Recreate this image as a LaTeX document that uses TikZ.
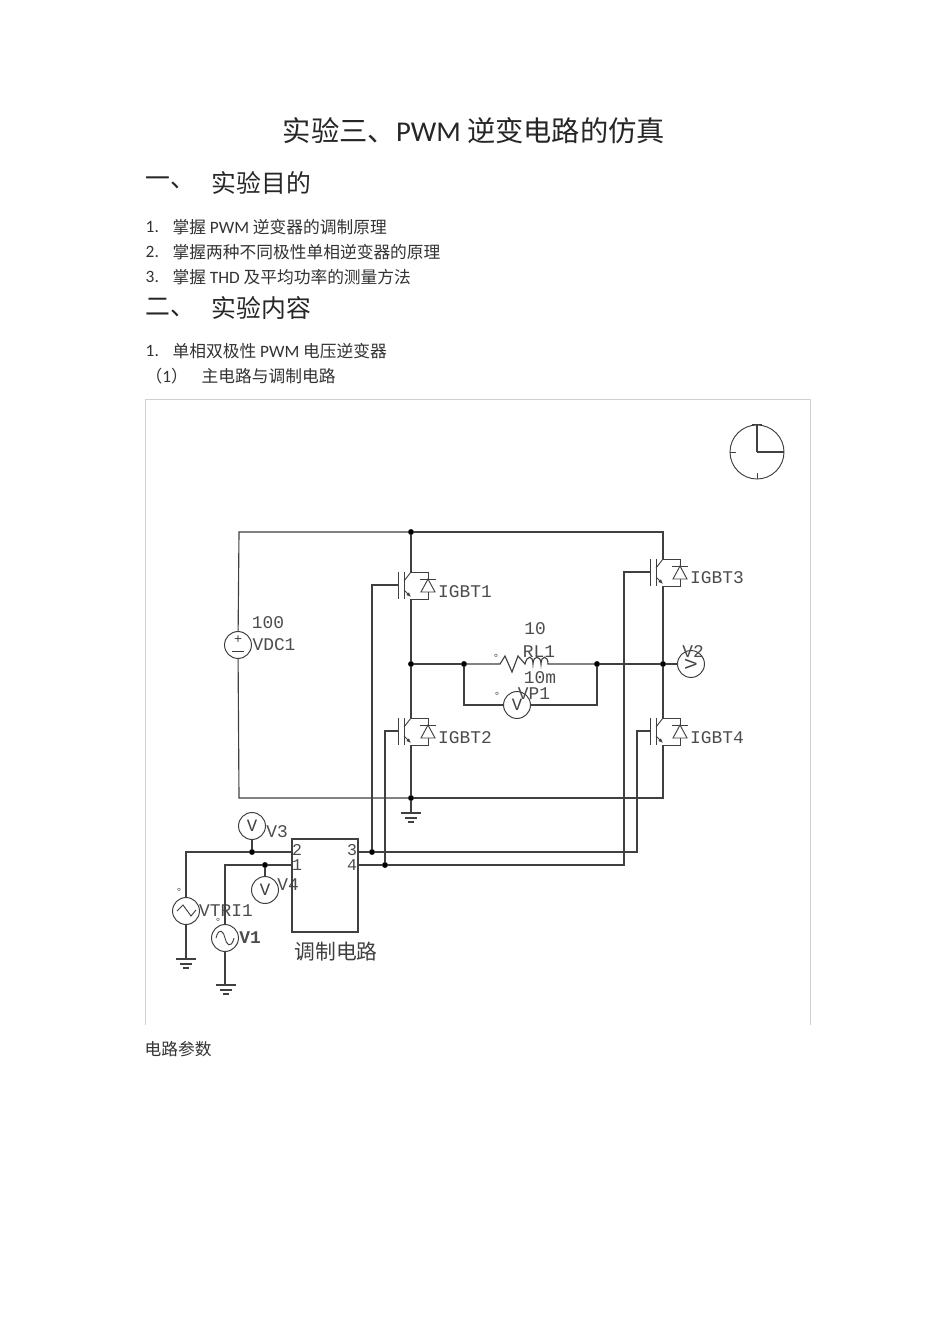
\documentclass[tikz,border=0pt]{standalone}
\usepackage{fontspec}
\setmainfont{Noto Sans CJK SC}
\newfontfamily\lat{Carlito}
\newfontfamily\sch{Liberation Mono}
\definecolor{wire}{HTML}{404040}
\newcommand{\fsz}[1]{\fontsize{#1}{#1}\selectfont}
\tikzset{
  wire/.style={draw=wire,line width=0.85pt},
  thin wire/.style={draw=wire,line width=0.7pt},
  jn/.style={circle,fill=black,inner sep=0pt,minimum size=4.4pt},
  meter/.style={circle,draw=wire,line width=0.75pt,fill=white,inner sep=0pt,minimum size=20.2pt,font=\sch\fsz{13},text=wire},
  title/.style={anchor=center,font=\fsz{21.2},text=black!85},
  head/.style={anchor=west,font=\fsz{18.6},text=black!85},
  body/.style={anchor=west,font=\fsz{12.55},text=black!80},
  lab/.style={font=\sch\fsz{13.4},text=black!70,inner sep=0pt},
  pin/.style={font=\sch\fsz{12.4},text=black!70,inner sep=0pt},
  pol/.style={font=\sch\fsz{8},text=wire,inner sep=0pt},
  igbt/.pic={
    \coordinate (-g) at (-13,0);
    \coordinate (-c) at (0,-13);
    \coordinate (-e) at (0,14);
    \draw[thin wire] (-13,-13) -- (-13,14);
    \draw[thin wire] (-7,-13) -- (-7,14);
    \draw[thin wire] (-7,-4) -- (0,-13);
    \draw[thin wire,-{Latex[length=3.5pt,width=3pt]}] (-7,5) -- (0,12);
    \draw[thin wire] (0,-13) -- (17,-13) -- (17,-6);
    \draw[thin wire] (17,7) -- (17,14) -- (0,14);
    \draw[thin wire] (9,-6) -- (25,-6);
    \draw[thin wire] (17,-6) -- (10,7) -- (24,7) -- cycle;
  },
  gnd/.pic={
    \coordinate (-t) at (0,0);
    \draw[wire] (-10,0) -- (10,0);
    \draw[wire] (-6,5) -- (6,5);
    \draw[wire] (-3,9) -- (3,9);
  }
}
\usetikzlibrary{arrows.meta}
\begin{document}
\begin{tikzpicture}[x=0.75pt,y=-0.75pt]
\useasboundingbox (0,0) rectangle (950,1344);
\fill[white] (0,0) rectangle (950,1344);

% page text
\node[title] (t0) at (474,131) {实验三、{\lat\fsz{21.5}PWM} 逆变电路的仿真};
\node[head] (h1a) at (141,183) {一、};
\node[head] (h1b) at (207,183) {实验目的};
\node[body] (b1n) at (141,227) {\lat\fsz{13}1.};
\node[body] (b1) at (168,227) {掌握 {\lat\fsz{13}PWM} 逆变器的调制原理};
\node[body] (b2n) at (141,252) {\lat\fsz{13}2.};
\node[body] (b2) at (168,252) {掌握两种不同极性单相逆变器的原理};
\node[body] (b3n) at (141,277) {\lat\fsz{13}3.};
\node[body] (b3) at (168,277) {掌握 {\lat\fsz{13}THD} 及平均功率的测量方法};
\node[head] (h2a) at (141,308) {二、};
\node[head] (h2b) at (207,308) {实验内容};
\node[body] (b4n) at (141,351) {\lat\fsz{13}1.};
\node[body] (b4) at (168,351) {单相双极性 {\lat\fsz{13}PWM} 电压逆变器};
\node[body] (b5n) at (141,376) {（{\lat\fsz{13}1}）};
\node[body] (b5) at (197,376) {主电路与调制电路};
\node[body] (b6) at (140,1049) {电路参数};

% figure frame
\draw[black!18,line width=0.6pt] (145,1025) -- (145,399.5) -- (810,399.5) -- (810,1025);

% clock
\node[circle,draw=wire,line width=0.7pt,inner sep=0pt,minimum size=40.5pt] (clk) at (757,452) {};
\draw[wire] (clk.center) -- (clk.north);
\draw[wire] (clk.center) -- (clk.east);
\draw[wire,line width=1.4pt] ([xshift=-3.5pt]clk.north) -- ([xshift=3.5pt]clk.north);
\draw[thin wire] (clk.west) -- ++(6,0);
\draw[thin wire] (clk.south) -- ++(0,-6);

% junctions
\node[jn] (jtop) at (411,532) {};
\node[jn] (jmidl) at (411,664) {};
\node[jn] (jrl) at (464,664) {};
\node[jn] (jrr) at (597,664) {};
\node[jn] (jmidr) at (663,664) {};
\node[jn] (jbot) at (411,798) {};
\node[jn] (j3) at (372,852) {};
\node[jn] (j4) at (385,865) {};
\node[jn] (jv3) at (252,852) {};
\node[jn] (jv4) at (265,865) {};

% IGBTs
\pic (q1) at (411,585) {igbt};
\pic (q2) at (411,731) {igbt};
\pic (q3) at (663,572) {igbt};
\pic (q4) at (663,731) {igbt};
\node[lab] (l1) at (465,592) {IGBT1};
\node[lab] (l2) at (465,738) {IGBT2};
\node[lab] (l3) at (717,578) {IGBT3};
\node[lab] (l4) at (717,738) {IGBT4};

% sources and meters
\node[meter] (vdc) at (238,645) {};
\node[pol,font=\sch\fsz{10}] (vdcp) at (238,640) {+};
\draw[thin wire] (232,651) -- (244,651);
\node[lab] (l100) at (268,623) {100};
\node[lab] (lvdc) at (274,645) {VDC1};

\node[meter] (v2) at (691,664) {\rotatebox{90}{V}};
\node[lab] (lv2) at (693,652) {V2};
\node[meter] (vp) at (517,705) {V};
\node[lab] (lvp) at (534,694) {VP1};
\node[pol] (pvp) at (497,696) {°};
\node[pol] (prl) at (496,658) {°};
\node[lab] (l10) at (535,629) {10};
\node[lab] (lrl) at (539,652) {RL1};
\node[lab] (l10m) at (540,678) {10m};

\node[meter] (v3) at (252,826) {V};
\node[lab] (lv3) at (277,832) {V3};
\node[meter] (v4) at (265,890) {V};
\node[lab] (lv4) at (288,885) {V4};
\node[meter] (vtri) at (186,911) {};
\draw[thin wire] (177,911) -- (183,905) -- (191,916) -- (196,910);
\node[lab] (lvtri) at (226,911) {VTRI1};
\node[pol] (ptri) at (179,892) {°};
\node[meter] (v1) at (225,938) {};
\draw[thin wire] (216,938) .. controls (219,926) and (224,932) .. (225,938) .. controls (226,944) and (231,950) .. (234,938);
\node[lab,font=\sch\bfseries\fsz{13.4}] (lv1) at (250,938) {V1};
\node[pol] (pv1) at (218,922) {°};

% modulation block
\node[draw=wire,line width=0.85pt,minimum width=49.5pt,minimum height=69.75pt,inner sep=0pt] (blk) at (325,885.5) {};
\coordinate (p2) at (292,852);
\coordinate (p1) at (292,865);
\coordinate (p3) at (358,852);
\coordinate (p4) at (358,865);
\node[pin] (t2) at (297,850) {2};
\node[pin] (t1) at (297,865) {1};
\node[pin] (t3) at (352,850) {3};
\node[pin] (t4) at (352,865) {4};
\node[font=\fsz{15.6},text=black!75,inner sep=0pt] (blkl) at (336,952) {调制电路};

% grounds
\pic (g1) at (411,813) {gnd};
\pic (g2) at (186,959) {gnd};
\pic (g3) at (226,985) {gnd};

% main wiring
\draw[wire] (jtop) -- (q1-c);
\draw[wire] (q1-e) -- (jmidl);
\draw[wire] (jmidl) -- (q2-c);
\draw[wire] (q2-e) -- (jbot);
\draw[wire] (jbot) -- (g1-t);
\draw[wire] (vdc) -- (239,532) -- (jtop);
\draw[wire] (jtop) -- (663,532) -- (q3-c);
\draw[wire] (vdc) -- (239,798) -- (jbot);
\draw[wire] (jbot) -- (663,798) -- (q4-e);
\draw[wire] (q3-e) -- (jmidr);
\draw[wire] (jmidr) -- (q4-c);
\draw[wire] (jmidl) -- (jrl);
\draw[wire] (jrl) -- (500,664)
  -- (505,656) -- (512,672) -- (518,656) -- (525,664)
  .. controls (527,655) and (533,655) .. (533,664)
  .. controls (533,655) and (541,655) .. (541,664)
  .. controls (541,655) and (548,655) .. (548,664)
  -- (jrr);
\draw[wire] (jrr) -- (jmidr);
\draw[wire] (jmidr) -- (v2);
\draw[wire] (jrl) |- (vp);
\draw[wire] (jrr) |- (vp);

% gate wiring
\draw[wire] (q1-g) -| (j3);
\draw[wire] (q2-g) -| (j4);
\draw[wire] (q3-g) -- (624,572) |- (j4);
\draw[wire] (q4-g) -- (637,731) |- (j3);
\draw[wire] (p3) -- (j3);
\draw[wire] (p4) -- (j4);

% control inputs
\draw[wire] (vtri) |- (jv3);
\draw[wire] (jv3) -- (p2);
\draw[wire] (jv3) -- (v3);
\draw[wire] (v1) -- (225,865) -- (jv4);
\draw[wire] (jv4) -- (p1);
\draw[wire] (jv4) -- (v4);
\draw[wire] (vtri) -- (g2-t);
\draw[wire] (v1) -- (225,985) -- (g3-t);
\end{tikzpicture}
\end{document}
